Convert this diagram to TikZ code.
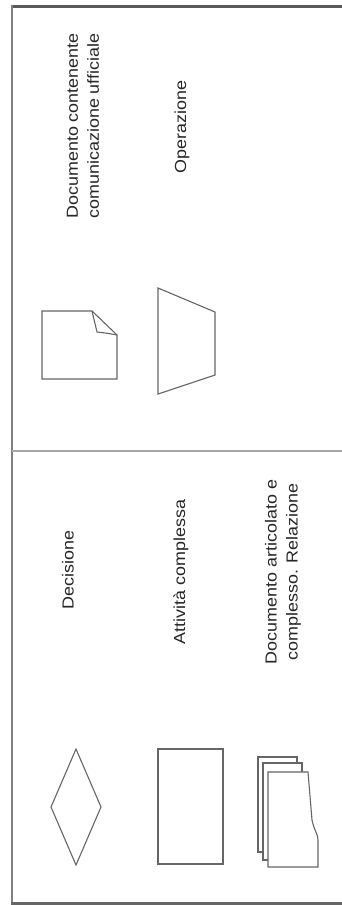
\documentclass[tikz,border=0pt]{standalone}
\usepackage{fontspec}
\setmainfont[FakeStretch=1.12]{Liberation Sans}
\begin{document}
\begin{tikzpicture}[x=1pt,y=-1pt,
  frameline/.style={draw=black!55,line width=2pt},
  shapeline/.style={draw=black!60,line width=1.1pt,line join=miter},
  lbl/.style={rotate=90,align=center,text=black!85,font=\fontsize{16}{21}\selectfont,inner sep=0pt}]
\useasboundingbox (0,0) rectangle (342,905);
\fill[white] (0,0) rectangle (342,905);
% frame
\coordinate (tl) at (11,6.5);
\coordinate (tr) at (342,6.5);
\coordinate (bl) at (11,903.5);
\coordinate (br) at (342,903.5);
\coordinate (ml) at (12,451);
\coordinate (mr) at (342,451);
\draw[draw=black!65,line width=3.5pt] (tl) -- (tr);
\draw[draw=black!50,line width=2pt] (12,5) -- (12,905);
\draw[draw=black!60,line width=2.5pt] (bl) -- (br);
\draw[draw=black!35,line width=2pt] (ml) -- (mr);
% top half
\node[lbl] (t1) at (83,126) {Documento contenente\\comunicazione ufficiale};
\node[lbl] (t2) at (182,127) {Operazione};
\draw[shapeline] (42,311) -- (92,311) -- (117,335) -- (117,379) -- (42,379) -- cycle;
\draw[shapeline] (92,311) .. controls (94,322) .. (97,332) .. controls (106,333) .. (117,335);
\draw[shapeline] (158,288) -- (215,312) -- (215,375) -- (158,394) -- cycle;
% bottom half
\node[lbl] (b1) at (68,570) {Decisione};
\node[lbl] (b2) at (181,572) {Attività complessa};
\node[lbl] (b3) at (283,572) {Documento articolato e\\complesso. Relazione};
\draw[shapeline] (51,807) -- (76,749) -- (101,807) -- (76,865) -- cycle;
\draw[shapeline] (158,749) rectangle (223,864);
\filldraw[shapeline,fill=white] (258,757) rectangle (297,852);
\filldraw[shapeline,fill=white] (263,763) rectangle (302,860);
\filldraw[shapeline,fill=white] (268,772) -- (308,772) -- (312,820) .. controls (314,830) and (318,834) .. (318,840) -- (318,867) -- (268,867) -- cycle;
\end{tikzpicture}
\end{document}
